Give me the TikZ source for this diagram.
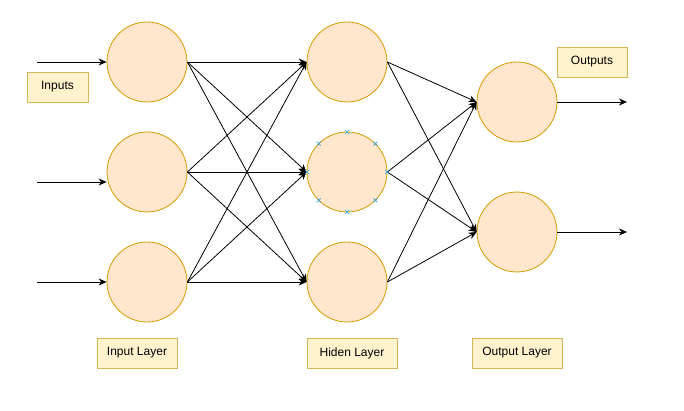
\documentclass[tikz,border=0pt]{standalone}
\usepackage{fontspec}
\setmainfont{Liberation Sans}
\usetikzlibrary{positioning,arrows.meta,calc}

\definecolor{neuronfill}{HTML}{FFE6CC}
\definecolor{neurondraw}{HTML}{D79B00}
\definecolor{labelfill}{HTML}{FFF2CC}
\definecolor{labeldraw}{HTML}{D6B656}
\definecolor{handle}{HTML}{3EA8DC}

\begin{document}
\begin{tikzpicture}[
  x=1pt, y=-1pt, font=\fontsize{12}{14}\selectfont,
  >={Stealth[length=8pt,width=7pt]},
  neuron/.style={circle, draw=neurondraw, fill=neuronfill, line width=0.8pt, minimum size=80pt, inner sep=0pt},
  tag/.style={draw=labeldraw, fill=labelfill, line width=0.8pt, minimum height=30pt, inner sep=0pt, minimum width=#1},
  tag/.default=61pt,
  wire/.style={->, line width=0.8pt}]
  \useasboundingbox (0,0) rectangle (684,411);

  % layers
  \node[neuron] (in1) at (147,62) {};
  \node[neuron] (in2) at (147,172) {};
  \node[neuron] (in3) at (147,282) {};
  \node[neuron] (hid1) at (347,62) {};
  \node[neuron] (hid2) at (347,172) {};
  \node[neuron] (hid3) at (347,282) {};
  \node[neuron] (out1) at (517,102) {};
  \node[neuron] (out2) at (517,232) {};

  % labels
  \node[tag] (inputs) at (57.5,87) {Inputs};
  \node[tag=70pt] (outputs) at (592,62) {Outputs};
  \node[tag=80pt] (inlayer) at (137,353) {Input Layer};
  \node[tag=90pt] (hidlayer) at (352,353) {Hiden Layer};
  \node[tag=90pt] (outlayer) at (517,353) {Output Layer};

  % free ends
  \coordinate (src1) at (37,62);
  \coordinate (src2) at (37,182);
  \coordinate (src3) at (37,282);
  \coordinate (dst1) at (627,102);
  \coordinate (dst2) at (627,232);

  \draw[wire] (src1) -- (src1 -| in1.west);
  \draw[wire] (src2) -- (src2 -| in2.west);
  \draw[wire] (src3) -- (src3 -| in3.west);
  \foreach \i in {1,2,3}{
    \foreach \j in {1,2,3}
      \draw[wire] (in\i.east) -- (hid\j.west);
    \foreach \k in {1,2}
      \draw[wire] (hid\i.east) -- (out\k.west);
  }
  \draw[wire] (out1.east) -- (dst1);
  \draw[wire] (out2.east) -- (dst2);

  % selection handles
  \foreach \a in {0,45,...,315}
    \draw[handle, line width=0.7pt] ($(hid2.center)+(\a:40pt)+(-2pt,-2pt)$) -- ++(4pt,4pt)
      ($(hid2.center)+(\a:40pt)+(-2pt,2pt)$) -- ++(4pt,-4pt);
\end{tikzpicture}
\end{document}
